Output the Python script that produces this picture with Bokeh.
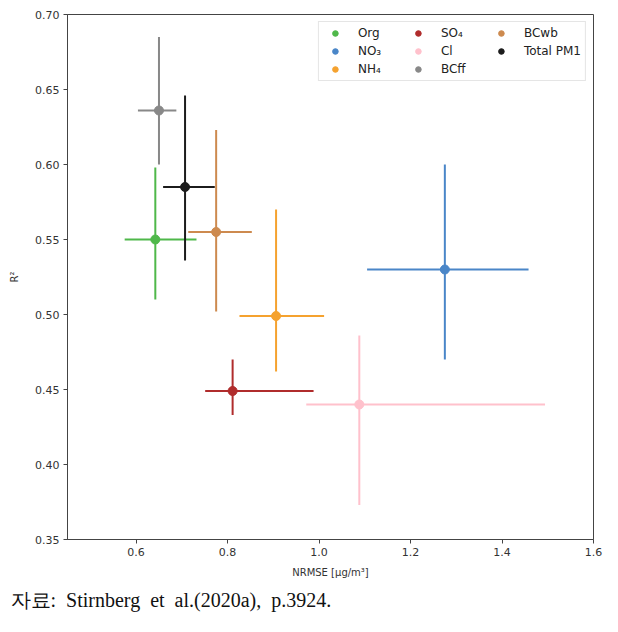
from bokeh.plotting import figure
from bokeh.models import (ColumnDataSource, FixedTicker, PrintfTickFormatter,
                          Legend, LegendItem, Title, Range1d)
from bokeh.embed import file_html
from bokeh.resources import INLINE

# ---- data ----
species = ["Org", "NO₃", "NH₄", "SO₄", "Cl", "BCff", "BCwb", "Total PM1"]
colors = ["#4fb84a", "#4a86c8", "#f5a22f", "#b02c2c", "#ffc1cc", "#888888", "#cd8a4f", "#1c1c1c"]
nrmse = [0.642, 1.275, 0.906, 0.811, 1.088, 0.650, 0.775, 0.707]
nrmse_low = [0.575, 1.105, 0.826, 0.751, 0.972, 0.604, 0.714, 0.659]
nrmse_high = [0.732, 1.458, 1.011, 0.988, 1.494, 0.688, 0.853, 0.772]
r2 = [0.550, 0.530, 0.499, 0.449, 0.440, 0.636, 0.555, 0.585]
r2_low = [0.510, 0.470, 0.462, 0.433, 0.373, 0.600, 0.502, 0.536]
r2_high = [0.598, 0.600, 0.570, 0.470, 0.486, 0.685, 0.623, 0.646]

x_ticks = [0.6, 0.8, 1.0, 1.2, 1.4, 1.6]
y_ticks = [0.35, 0.40, 0.45, 0.50, 0.55, 0.60, 0.65, 0.70]
caption = "자료:\u00a0 Stirnberg\u00a0 et\u00a0 al.(2020a),\u00a0 p.3924."

p = figure(width=618, height=632, output_backend="svg", toolbar_location=None,
           x_range=Range1d(0.45, 1.6), y_range=Range1d(0.35, 0.70),
           min_border_left=67, min_border_right=25, min_border_top=14,
           min_border_bottom=93, background_fill_color="white",
           border_fill_color="white")
p.grid.visible = False
p.outline_line_color = "#444444"
p.outline_line_width = 1

for ax in (p.xaxis[0], p.yaxis[0]):
    ax.axis_line_color = "#444444"
    ax.major_tick_line_color = "#444444"
    ax.major_tick_out = 4
    ax.major_tick_in = 0
    ax.minor_tick_line_color = None
    ax.major_label_text_font = "DejaVu Sans"
    ax.major_label_text_font_size = "11px"
    ax.major_label_text_color = "#333333"
    ax.axis_label_text_font = "DejaVu Sans"
    ax.axis_label_text_font_size = "10px"
    ax.axis_label_text_font_style = "normal"
    ax.axis_label_text_color = "#333333"
    ax.major_label_standoff = 4

p.xaxis.ticker = FixedTicker(ticks=x_ticks)
p.xaxis.formatter = PrintfTickFormatter(format="%.1f")
p.yaxis.ticker = FixedTicker(ticks=y_ticks)
p.yaxis.formatter = PrintfTickFormatter(format="%.2f")
p.xaxis.axis_label = "NRMSE [μg/m³]"
p.yaxis.axis_label = "R²"
p.xaxis.axis_label_standoff = 8
p.yaxis.axis_label_standoff = 12

items = []
for i, name in enumerate(species):
    src = ColumnDataSource(dict(x=[nrmse[i]], y=[r2[i]],
                                xl=[nrmse_low[i]], xh=[nrmse_high[i]],
                                yl=[r2_low[i]], yh=[r2_high[i]]))
    p.segment(x0="xl", y0="y", x1="xh", y1="y", source=src,
              line_color=colors[i], line_width=2)
    p.segment(x0="x", y0="yl", x1="x", y1="yh", source=src,
              line_color=colors[i], line_width=2)
    r = p.scatter(x="x", y="y", source=src, size=9, marker="circle",
                  fill_color=colors[i], line_color=colors[i])
    items.append(LegendItem(label=name, renderers=[r]))

legend = Legend(items=items, location="top_right", orientation="vertical",
                nrows=3, border_line_color="#cccccc", border_line_width=1,
                background_fill_alpha=1, label_text_font="DejaVu Sans",
                label_text_font_size="12px", label_text_color="#222222",
                glyph_width=24, glyph_height=14, label_height=14,
                spacing=4, padding=4, margin=7, label_standoff=11,
                label_width=44)
p.add_layout(legend)

p.add_layout(Title(text=caption, align="left", offset=-57,
                   text_font="Liberation Serif", text_font_size="20px",
                   text_font_style="normal", text_color="#111111",
                   standoff=12), "below")

open("out.html", "w").write(file_html(p, INLINE))
